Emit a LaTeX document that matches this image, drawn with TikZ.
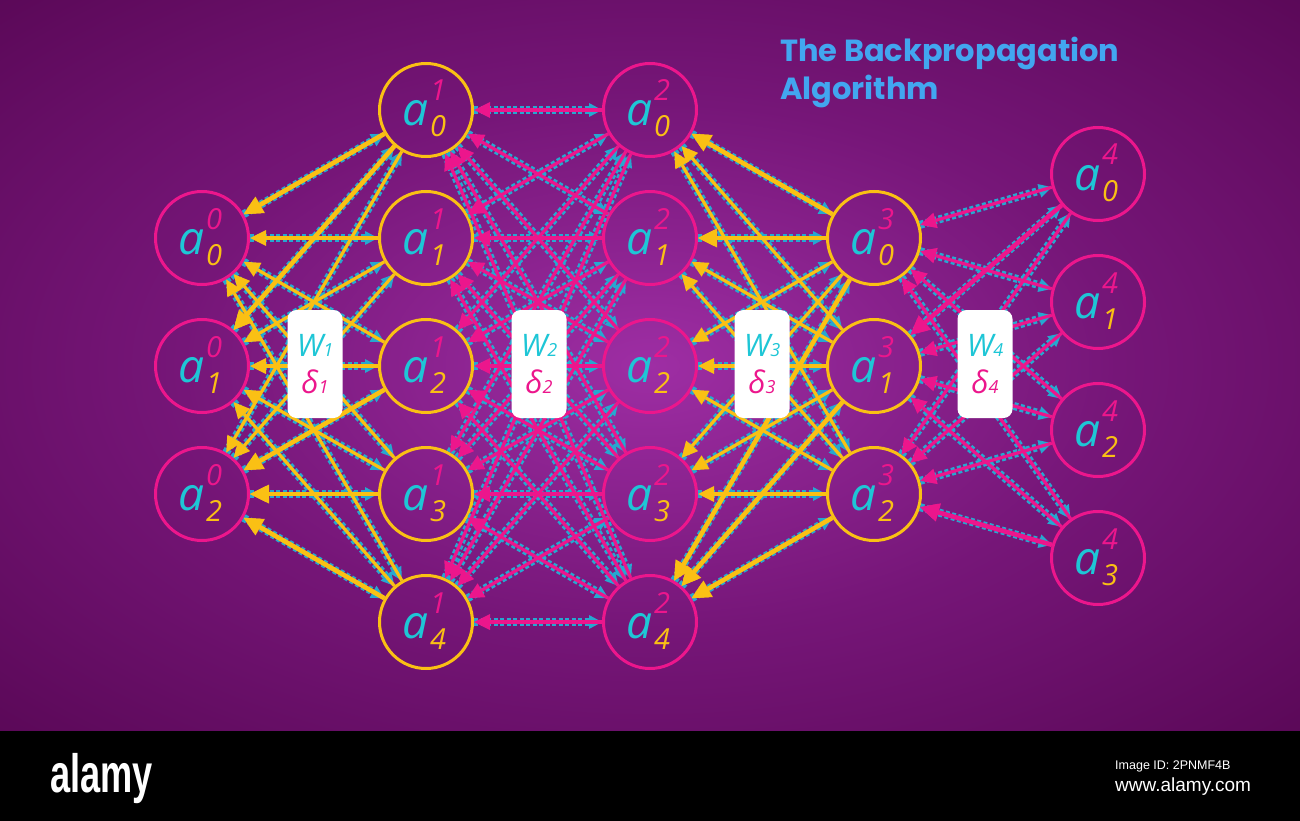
\documentclass[tikz,border=0pt]{standalone}
\usepackage{fontspec}
\usetikzlibrary{arrows.meta}
\setmainfont{Open Sans}
\newfontfamily\titlefont{Poppins}
\newfontfamily\wmfont{Liberation Sans}
\definecolor{cP}{RGB}{236,22,140}
\definecolor{cY}{RGB}{250,192,20}
\definecolor{cA}{RGB}{30,198,214}
\definecolor{cC}{RGB}{38,168,208}
\definecolor{cT}{RGB}{66,166,240}
\definecolor{bgIn}{RGB}{158,46,164}
\definecolor{bgMid}{RGB}{118,22,120}
\definecolor{bgOut}{RGB}{84,5,80}
\definecolor{bgCorner}{RGB}{66,2,62}
\pgfdeclareradialshading{bgshade}{\pgfpoint{0bp}{0bp}}{color(0bp)=(bgIn); color(18bp)=(bgMid); color(40bp)=(bgOut); color(70bp)=(bgCorner)}
\newcommand\actlab[2]{\fontsize{46}{46}\selectfont\textcolor{cA}{a}\kern2pt\rlap{\raisebox{25pt}{\fontsize{29}{29}\selectfont\textcolor{cP}{#1}}}\raisebox{-11pt}{\fontsize{29}{29}\selectfont\textcolor{cY}{#2}}}
\newcommand\wlab[1]{{\color{cA}W\fontsize{18}{18}\selectfont #1}\\{\color{cP}δ\fontsize{18}{18}\selectfont #1}}
\tikzset{
  circP/.style={circle, draw=cP, line width=3pt, minimum size=93pt, inner sep=0pt},
  circY/.style={circle, draw=cY, line width=3pt, minimum size=93pt, inner sep=0pt},
  lab/.style={anchor=base, inner sep=0pt, font=\itshape},
  cyanln/.style={draw=cC, line width=8pt, dash pattern=on 4pt off 2.5pt, -{Triangle[length=13pt,width=14pt,line width=0pt]}},
  yelln/.style={draw=cY, line width=3.2pt, {Triangle[length=16pt,width=16pt,line width=0pt]}-},
  pinkln/.style={draw=cP, line width=3.2pt, {Triangle[length=16pt,width=16pt,line width=0pt]}-},
  heavy/.style={line width=4.6pt, {Triangle[length=19pt,width=19pt,line width=0pt]}-},
  wbox/.style={rounded corners=9pt, fill=white, minimum width=55pt, minimum height=108pt, inner sep=0pt, align=center, font=\fontsize{31}{37}\selectfont\itshape}
}
\begin{document}
\begin{tikzpicture}[x=1pt,y=-1pt]
\useasboundingbox (0,0) rectangle (1300,821);
\shade[shading=bgshade] (0,0) rectangle (1300,731);
\fill[black] (0,731) rectangle (1300,821);
% layer 0
\node[circP] (n00) at (202,238) {};
\node[circP] (n01) at (202,366) {};
\node[circP] (n02) at (202,494) {};
% layer 1
\node[circY] (n10) at (426,110) {};
\node[circY] (n11) at (426,238) {};
\node[circY] (n12) at (426,366) {};
\node[circY] (n13) at (426,494) {};
\node[circY] (n14) at (426,622) {};
% layer 2
\node[circP] (n20) at (650,110) {};
\node[circP] (n21) at (650,238) {};
\node[circP] (n22) at (650,366) {};
\node[circP] (n23) at (650,494) {};
\node[circP] (n24) at (650,622) {};
% layer 3
\node[circY] (n30) at (874,238) {};
\node[circY] (n31) at (874,366) {};
\node[circY] (n32) at (874,494) {};
% layer 4
\node[circP] (n40) at (1098,174) {};
\node[circP] (n41) at (1098,302) {};
\node[circP] (n42) at (1098,430) {};
\node[circP] (n43) at (1098,558) {};
% labels
\node[lab] (t00) at (200,254) {\actlab{0}{0}};
\node[lab] (t01) at (200,382) {\actlab{0}{1}};
\node[lab] (t02) at (200,510) {\actlab{0}{2}};
\foreach \j/\y in {0/110,1/238,2/366,3/494,4/622}{
  \node[lab] (t1\j) at (424,\y+16) {\actlab{1}{\j}};
  \node[lab] (t2\j) at (648,\y+16) {\actlab{2}{\j}};
}
\node[lab] (t30) at (872,254) {\actlab{3}{0}};
\node[lab] (t31) at (872,382) {\actlab{3}{1}};
\node[lab] (t32) at (872,510) {\actlab{3}{2}};
\foreach \j/\y in {0/174,1/302,2/430,3/558}{
  \node[lab] (t4\j) at (1096,\y+16) {\actlab{4}{\j}};
}
% connectors layer 0-1
\foreach \i in {0,1,2}{\foreach \j in {0,...,4}{\draw[cyanln] (n0\i) -- (n1\j);}}
\foreach \i in {0,1,2}{\foreach \j in {0,...,4}{\draw[yelln] (n0\i) -- (n1\j);}}
\foreach \a/\b in {n02/n12,n02/n13,n02/n14,n01/n10,n00/n10}{\draw[yelln,heavy] (\a) -- (\b);}
% layer 1-2
\foreach \i in {0,...,4}{\foreach \j in {0,...,4}{\draw[cyanln] (n1\i) -- (n2\j);}}
\foreach \i in {0,...,4}{\foreach \j in {0,...,4}{\draw[pinkln] (n1\i) -- (n2\j);}}
% layer 2-3
\foreach \i in {0,...,4}{\foreach \j in {0,1,2}{\draw[cyanln] (n2\i) -- (n3\j);}}
\foreach \i in {0,...,4}{\foreach \j in {0,1,2}{\draw[yelln] (n2\i) -- (n3\j);}}
\foreach \a/\b in {n21/n30,n20/n30,n24/n31,n24/n30,n24/n32}{\draw[yelln,heavy] (\a) -- (\b);}
% layer 3-4
\foreach \i in {0,1,2}{\foreach \j in {0,...,3}{\draw[cyanln] (n3\i) -- (n4\j);}}
\foreach \i in {0,1,2}{\foreach \j in {0,...,3}{\draw[pinkln] (n3\i) -- (n4\j);}}
\foreach \a/\b in {n31/n40,n32/n43}{\draw[pinkln,heavy] (\a) -- (\b);}
% weight boxes
\node[wbox] (b1) at (315,364) {\wlab{1}};
\node[wbox] (b2) at (539,364) {\wlab{2}};
\node[wbox] (b3) at (762,364) {\wlab{3}};
\node[wbox] (b4) at (985,364) {\wlab{4}};
% title
\node[anchor=north west, inner sep=0pt, align=left, text=cT, font=\titlefont\bfseries\fontsize{30.5}{38}\selectfont] (title) at (780,37) {The Backpropagation\\Algorithm};
% bottom bar texts
\node[anchor=base west, inner sep=0pt, text=white, font=\wmfont\bfseries\fontsize{54}{54}\selectfont] (alamy) at (50,792) {\scalebox{0.67}[1]{alamy}};
\node[anchor=base west, inner sep=0pt, text=white, font=\wmfont\fontsize{12.5}{12.5}\selectfont] (imgid) at (1115,769) {Image ID: 2PNMF4B};
\node[anchor=base west, inner sep=0pt, text=white, font=\wmfont\fontsize{19}{19}\selectfont] (www) at (1115,791) {www.alamy.com};
\end{tikzpicture}
\end{document}
